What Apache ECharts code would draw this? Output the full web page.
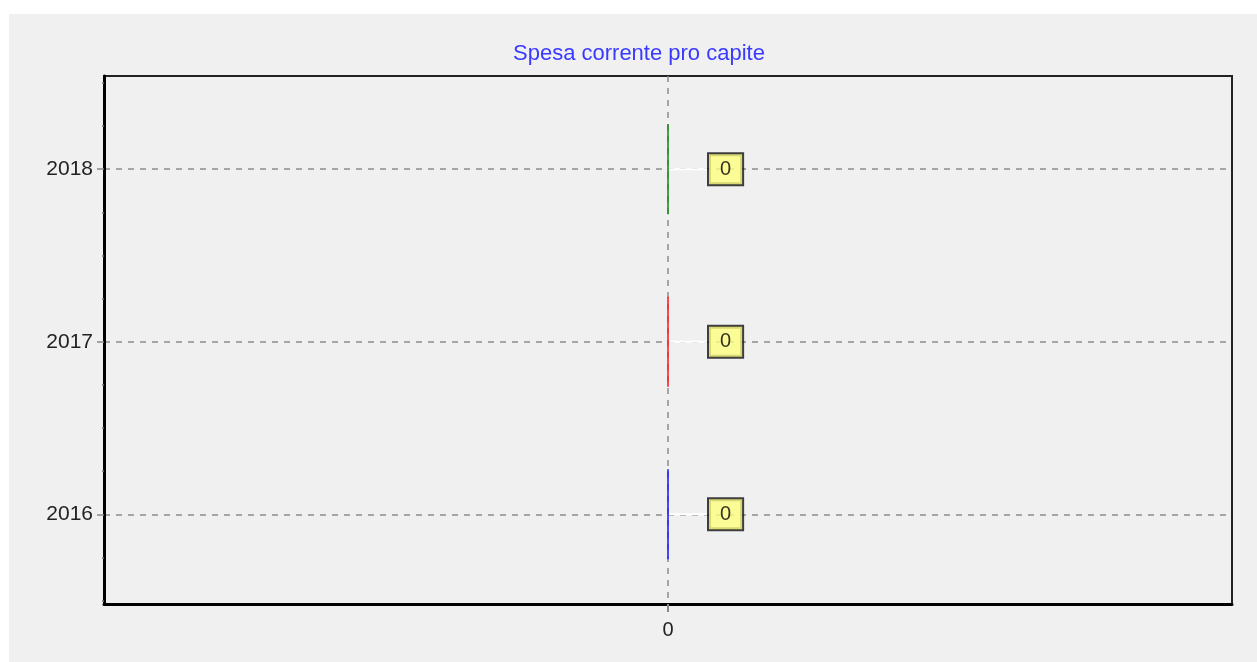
<!DOCTYPE html>
<html>
<head>
<meta charset="utf-8">
<script src="https://cdn.jsdelivr.net/npm/echarts@6/dist/echarts.min.js"></script>
<style>
  html, body { margin: 0; padding: 0; background: #fff; }
  #chart { position: absolute; left: 9px; top: 14px; width: 1248px; height: 648px; background: #f0f0f0; }
</style>
</head>
<body>
<div id="chart"></div>
<script>
// data
const years = [2016, 2017, 2018];
const values = [0, 0, 0];
const barColors = ["#1f1fff", "#ff1f1f", "#1c8f1c"];
const xTicks = [0];
const minorYTicks = [2015.5, 2015.75, 2016.25, 2016.5, 2016.75, 2017.25, 2017.5, 2017.75, 2018.25, 2018.5];

const chart = echarts.init(document.getElementById("chart"));

const points = years.map((y, i) => ({
  value: [values[i], y],
  itemStyle: { color: barColors[i] }
}));

const dashed = { color: "#8c8c8c", width: 1.5, type: [6, 6] };

const option = {
  animation: false,
  textStyle: { fontFamily: "Liberation Sans, Arial, sans-serif" },
  title: {
    text: "Spesa corrente pro capite",
    left: 499,
    top: 24,
    textStyle: { color: "#3a3aff", fontSize: 22, fontWeight: "normal" }
  },
  grid: {
    left: 95, top: 62, right: 25, bottom: 58,
    show: true,
    borderColor: "#222",
    borderWidth: 2,
    backgroundColor: "transparent"
  },
  xAxis: {
    type: "value",
    min: -1,
    max: 1,
    axisLine: { show: true, onZero: false, lineStyle: { color: "#000", width: 3 } },
    axisTick: { show: true, length: 8, customValues: xTicks, lineStyle: { color: "#888", width: 2 } },
    axisLabel: { margin: 16, fontSize: 20, color: "#222", customValues: xTicks, formatter: v => String(v) },
    splitLine: { show: true, lineStyle: dashed }
  },
  yAxis: [{
    type: "value",
    min: 2015.48,
    max: 2018.54,
    axisLine: { show: true, onZero: false, lineStyle: { color: "#000", width: 3 } },
    axisTick: { show: true, length: 7, customValues: years, lineStyle: { color: "#888", width: 1.5 } },
    axisLabel: { margin: 11, fontSize: 21, color: "#222", customValues: years, formatter: v => String(v) },
    splitLine: { show: true, lineStyle: dashed }
  }, {
    // only the short quarter ticks on the left edge
    type: "value",
    position: "left",
    min: 2015.48,
    max: 2018.54,
    axisLine: { show: false, onZero: false },
    axisTick: { show: true, length: 2, customValues: minorYTicks, lineStyle: { color: "#777", width: 1.5 } },
    axisLabel: { show: false },
    splitLine: { show: false }
  }],
  series: [{
    type: "scatter",
    symbol: "rect",
    symbolSize: [2, 90],
    data: points,
    label: {
      show: true,
      position: "right",
      distance: 0,
      formatter: p => String(p.value[0]),
      color: "#000",
      fontSize: 20,
      lineHeight: 20,
      backgroundColor: "#ffff80",
      borderColor: "#111",
      borderWidth: 2,
      padding: [5, 11]
    },
    labelLayout: { dx: 40 },
    labelLine: { show: true, lineStyle: { color: "#ffffff", width: 2 } },
    z: 5
  }]
};

chart.setOption(option);
</script>
</body>
</html>
